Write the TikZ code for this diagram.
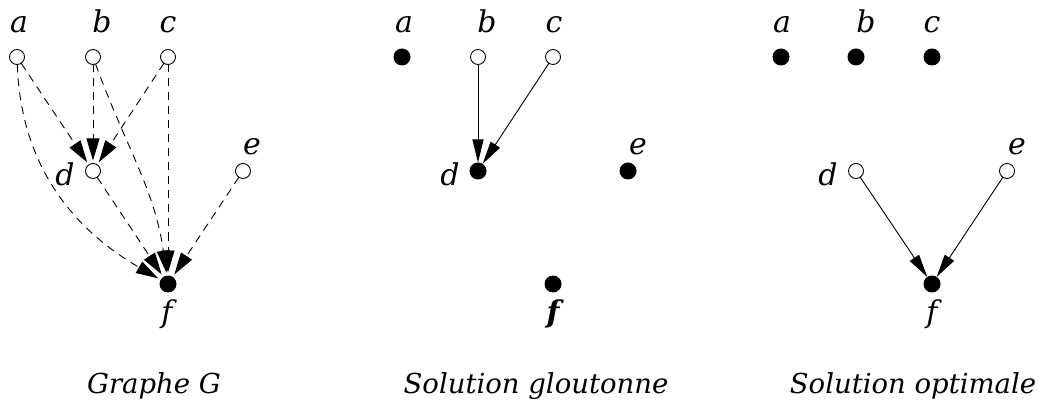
\documentclass[tikz,border=0pt]{standalone}
\usepackage{fontspec}
\setmainfont{DejaVu Serif}
\usetikzlibrary{arrows.meta}
\tikzset{
 opennode/.style={circle,draw,line width=0.9pt,fill=white,minimum size=15pt,inner sep=0pt,outer sep=0pt},
 fullnode/.style={circle,fill=black,minimum size=17pt,inner sep=0pt,outer sep=0pt},
 labtxt/.style={anchor=base,font=\fontsize{30}{34}\selectfont\itshape,inner sep=0pt},
 captxt/.style={anchor=base,font=\fontsize{27.5}{32}\selectfont\itshape,inner sep=0pt},
 dedge/.style={line width=0.9pt,dash pattern=on 8pt off 6pt,-{Triangle[length=22pt,width=13pt]},shorten >=3pt},
 sedge/.style={line width=0.9pt,-{Triangle[length=23pt,width=11pt]}},
}
\begin{document}
\begin{tikzpicture}[x=1pt,y=1pt]
\useasboundingbox (0,0) rectangle (1040,-403);
% Panel 1
\node[opennode] (a1) at (17,-57) {};
\node[opennode] (b1) at (93,-57) {};
\node[opennode] (c1) at (168,-57) {};
\node[opennode] (d1) at (93,-171) {};
\node[opennode] (e1) at (243,-171) {};
\node[fullnode] (f1) at (168,-284) {};
\node[labtxt] (la1) at (19,-33) {a};
\node[labtxt] (lb1) at (102,-33) {b};
\node[labtxt] (lc1) at (168,-33) {c};
\node[labtxt] (ld1) at (65,-186) {d};
\node[labtxt] (le1) at (252,-155) {e};
\node[labtxt] (lf1) at (167,-322) {f};
\draw[dedge] (a1) -- (d1);
\draw[dedge] (b1) -- (d1);
\draw[dedge] (c1) -- (d1);
\draw[dedge] (a1) to[out=-88,in=150] (f1);
\draw[dedge] (b1) to[out=-70,in=98] (f1);
\draw[dedge] (c1) -- (f1);
\draw[dedge] (d1) -- (f1);
\draw[dedge] (e1) -- (f1);
\node[captxt] (cap1) at (154,-393) {Graphe G};
% Panel 2
\node[fullnode] (a2) at (402,-57) {};
\node[opennode] (b2) at (478,-57) {};
\node[opennode] (c2) at (553,-57) {};
\node[fullnode] (d2) at (478,-171) {};
\node[fullnode] (e2) at (628,-171) {};
\node[fullnode] (f2) at (553,-284) {};
\node[labtxt] (la2) at (404,-33) {a};
\node[labtxt] (lb2) at (487,-33) {b};
\node[labtxt] (lc2) at (554,-33) {c};
\node[labtxt] (ld2) at (450,-186) {d};
\node[labtxt] (le2) at (638,-155) {e};
\node[labtxt] (lf2) at (553,-322) {\bfseries f};
\draw[sedge] (b2) -- (d2);
\draw[sedge] (c2) -- (d2);
\node[captxt] (cap2) at (536,-393) {Solution gloutonne};
% Panel 3
\node[fullnode] (a3) at (781,-57) {};
\node[fullnode] (b3) at (856,-57) {};
\node[fullnode] (c3) at (932,-57) {};
\node[opennode] (d3) at (856,-171) {};
\node[opennode] (e3) at (1007,-171) {};
\node[fullnode] (f3) at (932,-284) {};
\node[labtxt] (la3) at (782,-33) {a};
\node[labtxt] (lb3) at (866,-33) {b};
\node[labtxt] (lc3) at (932,-33) {c};
\node[labtxt] (ld3) at (828,-186) {d};
\node[labtxt] (le3) at (1017,-155) {e};
\node[labtxt] (lf3) at (932,-322) {f};
\draw[sedge] (d3) -- (f3);
\draw[sedge] (e3) -- (f3);
\node[captxt] (cap3) at (913,-393) {Solution optimale};
\end{tikzpicture}
\end{document}
